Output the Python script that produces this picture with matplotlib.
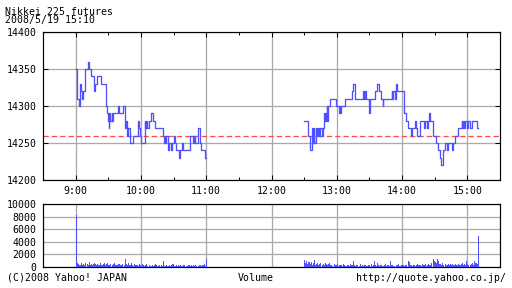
import matplotlib
matplotlib.use('Agg')
import matplotlib.pyplot as plt
import numpy as np
from matplotlib.ticker import MultipleLocator, FuncFormatter

# ---------------- data ----------------
title = "Nikkei 225 futures"
stamp = "2008/5/19 15:10"
prev_close = 14260

# morning session (minutes after 9:00, price at each change)
am_t = [0, 1, 1.5, 3, 4.3, 5.2, 6, 6.8, 8.5, 11.3, 12.3, 14.4, 16.9, 17.3, 18, 19.9,
        23.6, 27.6, 28.5, 29.8, 30.5, 31, 32, 33, 33.7, 34.5, 38.9, 40, 43.5, 45,
        46.6, 47.5, 48.5, 49.7, 52.7, 57.3, 58, 59, 60.4, 63.5, 64, 64.5, 65, 65.5,
        66, 67, 69.6, 71.1, 72.7, 80.3, 81, 82, 82.5, 83.4, 84.9, 85.5, 88, 89, 90,
        91, 92.6, 94.8, 95.7, 98.1, 98.7, 104.9, 107.9, 108.7, 109.5, 112.5, 114.1,
        115.6, 118.7]
am_p = [14350, 14340, 14310, 14300, 14330, 14320, 14310, 14320, 14350, 14360,
        14350, 14340, 14330, 14320, 14330, 14340, 14330, 14300, 14290, 14280,
        14270, 14290, 14280, 14290, 14280, 14290, 14300, 14290, 14300, 14270,
        14280, 14260, 14270, 14250, 14260, 14280, 14270, 14260, 14250, 14280,
        14270, 14280, 14270, 14280, 14270, 14280, 14290, 14280, 14270, 14260,
        14250, 14260, 14250, 14260, 14240, 14250, 14240, 14250, 14260, 14250,
        14240, 14230, 14240, 14250, 14240, 14260, 14250, 14260, 14250, 14270,
        14250, 14240, 14230]
am_len = 120

# afternoon session (minutes after 12:30, price at each change)
pm_t = [0, 3.7, 5.2, 7.4, 8.2, 8.9, 9.5, 10.5, 11.5, 12.9, 14, 15, 16, 16.9, 18.1,
        19, 19.8, 20.6, 21.3, 22.1, 23.6, 29.2, 31.9, 32.5, 33.2, 34, 37.4, 43.6,
        45.1, 46.6, 54.3, 55, 55.8, 56.5, 59.5, 60.4, 65, 67.2, 68.7, 70.3, 72.1,
        72.8, 80.4, 81.2, 82, 83.4, 84.4, 85.6, 92, 93.6, 95.7, 98.1, 99, 101.8,
        102.6, 103.4, 106.4, 110, 111, 113, 114, 114.5, 115.6, 118.7, 121.2, 123.4,
        124.9, 126, 127.3, 129.5, 131, 132.5, 135.6, 137.1, 138.6, 141.7, 144.8,
        145.5, 146.3, 147, 147.8, 149.4, 150.9, 152.4, 154, 158.6]
pm_p = [14280, 14260, 14240, 14270, 14250, 14270, 14250, 14270, 14260, 14270,
        14260, 14270, 14260, 14270, 14290, 14280, 14290, 14300, 14280, 14300,
        14310, 14300, 14290, 14300, 14290, 14300, 14310, 14320, 14330, 14310,
        14320, 14310, 14320, 14310, 14290, 14310, 14320, 14330, 14320, 14310,
        14300, 14310, 14320, 14310, 14320, 14310, 14330, 14320, 14290, 14280,
        14270, 14260, 14270, 14280, 14270, 14260, 14280, 14270, 14280, 14270,
        14280, 14290, 14280, 14260, 14250, 14240, 14230, 14220, 14240, 14250,
        14240, 14250, 14240, 14250, 14260, 14270, 14280, 14270, 14280, 14270,
        14280, 14270, 14280, 14270, 14280, 14270]
pm_len = 160

# per-minute volume
am_vol = [8200,
          600, 450, 300, 350, 700, 250, 400, 300, 650, 500, 350, 750, 300, 450, 250, 500, 700, 400, 300, 550,
          350, 600, 300, 250, 450, 650, 300, 400, 700, 350, 250, 500, 300, 450, 600, 250, 350, 300, 500, 400,
          250, 300, 450, 350, 1250, 400, 300, 600, 250, 350, 700, 300, 200, 450, 250, 300, 150, 400, 250, 200,
          500, 300, 150, 250, 400, 200, 350, 150, 200, 300, 150, 250, 450, 300, 200, 150, 250, 300, 200, 950,
          200, 150, 250, 100, 200, 300, 150, 250, 450, 200, 150, 300, 200, 250, 150, 350, 200, 150, 250, 300,
          200, 150, 300, 250, 200, 350, 150, 250, 200, 300, 150, 200, 350, 250, 200, 300, 250, 400, 200,
          1250]
pm_vol = [1100, 700, 900, 500, 750, 400, 850, 300, 600, 1050, 350, 500, 700, 300, 400, 650, 250, 500, 300, 600,
          400, 250, 450, 700, 300, 350, 200, 500, 250, 300, 450, 200, 350, 250, 300, 200, 400, 250, 150, 300,
          250, 200, 400, 300, 250, 900, 300, 200, 350, 250, 200, 450, 150, 300, 200, 250, 350, 200, 150, 300,
          250, 400, 200, 300, 950, 250, 200, 600, 300, 200, 350, 250, 150, 300, 450, 200, 250, 300, 200, 900,
          250, 300, 200, 150, 350, 250, 400, 200, 150, 300, 250, 350, 200, 300, 250, 950, 800, 300, 250, 200,
          300, 250, 200, 350, 400, 250, 300, 200, 450, 300, 250, 400, 200, 300, 550, 350, 250, 700, 1200, 900,
          800, 600, 1250, 950, 500, 400, 350, 600, 300, 450, 250, 350, 500, 300, 400, 250, 550, 300, 250, 400,
          350, 500, 300, 250, 400, 600, 300, 500, 350, 900, 400, 300, 250, 400, 700, 350, 900, 600, 700, 500,
          4900]

# ---------------- style ----------------
FONT = 'DejaVu Sans Mono'
plt.rcParams['font.family'] = [FONT, 'DejaVu Sans']
plt.rcParams['font.size'] = 7.1
plt.rcParams['lines.scale_dashes'] = False
BLUE = '#5050ff'
GRID = '#aaaaaa'
PX = 0.72  # one pixel in points

W, H = 512, 288
fig = plt.figure(figsize=(W / 100, H / 100), dpi=100)


def rect(l, t, r, b):
    return [l / W, 1 - b / H, (r - l) / W, (b - t) / H]


ax = fig.add_axes(rect(43, 32, 500, 180))
axv = fig.add_axes(rect(43, 204, 500, 267))

hourfmt = FuncFormatter(lambda v, p: f"{int(round(v))}:00")

for a in (ax, axv):
    a.set_xlim(8.5, 15.5)
    a.xaxis.set_major_locator(MultipleLocator(1))
    a.xaxis.set_minor_locator(MultipleLocator(0.5))
    a.grid(True, which='major', color=GRID, linewidth=1.3 * PX)
    a.set_axisbelow(True)
    for s in a.spines.values():
        s.set_linewidth(1.2 * PX)
        s.set_color('black')
    a.tick_params(which='both', direction='in', top=True, right=True,
                  labelsize=7.1, color='black', width=PX)
    a.tick_params(which='major', length=3.5)
    a.tick_params(which='minor', length=2)
    a.tick_params(axis='y', pad=4.5)
    a.tick_params(axis='x', pad=4)

# price panel
ax.set_ylim(14200, 14400)
ax.yaxis.set_major_locator(MultipleLocator(50))
ax.xaxis.set_major_formatter(hourfmt)

ax.axhline(prev_close, color='#ff4a4a', linewidth=1.3 * PX, dashes=(3.8, 2.2), zorder=2)

am_x = [9 + t / 60 for t in am_t] + [9 + am_len / 60]
am_y = am_p + [am_p[-1]]
pm_x = [12.5 + t / 60 for t in pm_t] + [12.5 + pm_len / 60]
pm_y = pm_p + [pm_p[-1]]
ax.plot(am_x, am_y, drawstyle='steps-post', color=BLUE, linewidth=1.3 * PX, zorder=3)
ax.plot(pm_x, pm_y, drawstyle='steps-post', color=BLUE, linewidth=1.3 * PX, zorder=3)

# volume panel
axv.set_ylim(0, 10000)
axv.yaxis.set_major_locator(MultipleLocator(2000))
axv.tick_params(axis='x', labelbottom=False)
axv.tick_params(which='both', length=0)
vx_am = 9 + np.arange(len(am_vol)) / 60
vx_pm = 12.5 + np.arange(len(pm_vol)) / 60
axv.bar(vx_am, am_vol, width=0.95 / 60, color=BLUE, linewidth=0, align='edge',
        antialiased=False, zorder=3)
axv.bar(vx_pm, pm_vol, width=0.95 / 60, color=BLUE, linewidth=0, align='edge',
        antialiased=False, zorder=3)

# texts
fig.text(5 / W, 1 - 15 / H, title, fontsize=7.1, va='baseline', ha='left')
fig.text(5 / W, 1 - 23.5 / H, stamp, fontsize=7.1, va='baseline', ha='left')
fig.text(7 / W, 1 - 281 / H, "(C)2008 Yahoo! JAPAN", fontsize=7.1, va='baseline', ha='left')
fig.text(256 / W, 1 - 281 / H, "Volume", fontsize=7.1, va='baseline', ha='center')
fig.text(506 / W, 1 - 281 / H, "http://quote.yahoo.co.jp/", fontsize=7.1, va='baseline', ha='right')

fig.savefig('out.png', dpi=100, facecolor='white')
